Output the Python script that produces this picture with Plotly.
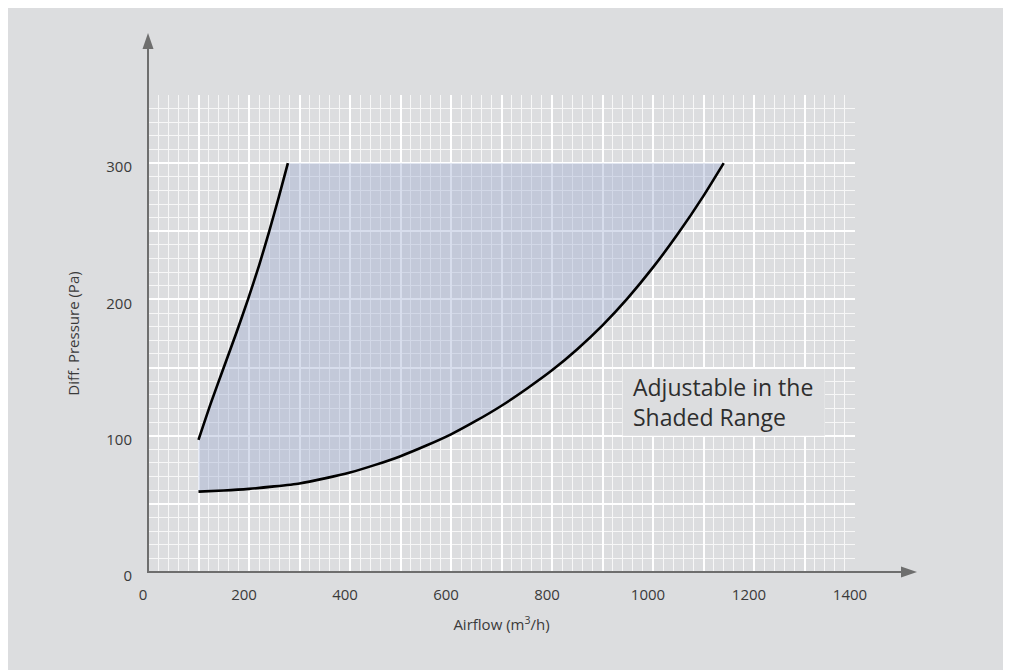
import plotly.graph_objects as go

# ---------------- data ----------------
left_x = [100, 125.5, 150, 174.5, 198, 220, 240, 259, 277]
left_y = [97, 125, 150, 175, 200, 225, 250, 275, 300]

bottom_x = [100, 150, 200, 250, 300, 350, 400, 450, 500, 550, 600, 650, 700, 750,
            800, 850, 900, 950, 1000, 1050, 1100, 1140]
bottom_y = [59, 59.8, 61, 62.8, 65, 68.7, 73, 78.6, 85, 92.6, 101, 111, 122, 134.5,
            148, 163.5, 181, 201, 223.5, 248.5, 276, 300]

x_tickvals = [0, 100, 200, 300, 400, 500, 600, 700, 800, 900, 1000, 1100, 1200, 1300, 1400]
x_ticktext = ["0", "", "200", "", "400", "", "600", "", "800", "", "1000", "", "1200", "", "1400"]
y_tickvals = [0, 50, 100, 150, 200, 250, 300, 350]
y_ticktext = ["0", "", "100", "", "200", "", "300", ""]

note_text = "Adjustable in the<br>Shaded Range"
x_title = "Airflow (m<sup>3</sup>/h)"
y_title = "Diff. Pressure (Pa)"

# ---------------- layout geometry ----------------
W, H = 1003, 662
L, R, T, B = 140, 847, 87, 564          # plot-area pixel box (figure coords)
BG = "#dcdddf"
AXIS = "#6e6e6e"
FONT = "Open Sans"
TXT = "#3a3a3a"


def px(xp):
    return (xp - L) / (R - L)


def py(yp):
    return (B - yp) / (B - T)


fig = go.Figure()

# shaded region (fill only)
fill_x = left_x + bottom_x[::-1]
fill_y = left_y + bottom_y[::-1]
fig.add_trace(go.Scatter(
    x=fill_x, y=fill_y, mode="lines", fill="toself",
    fillcolor="rgba(160,174,210,0.42)", line=dict(width=0),
    hoverinfo="skip", showlegend=False))

# boundary curves
for xs, ys in [(left_x, left_y), (bottom_x, bottom_y)]:
    fig.add_trace(go.Scatter(
        x=xs, y=ys, mode="lines",
        line=dict(color="#000000", width=2.6, shape="spline", smoothing=0.6),
        hoverinfo="skip", showlegend=False))

shapes = []
# note box (covers grid)
shapes.append(dict(type="rect", xref="x", yref="y", layer="above",
                   x0=940, x1=1340, y0=100, y1=149,
                   fillcolor=BG, line=dict(width=0)))
# axis lines
shapes.append(dict(type="line", xref="paper", yref="paper", layer="above",
                   x0=0, x1=0, y0=py(B + 1), y1=py(41),
                   line=dict(color=AXIS, width=2)))
shapes.append(dict(type="line", xref="paper", yref="paper", layer="above",
                   x0=px(L - 1), x1=px(894), y0=0, y1=0,
                   line=dict(color=AXIS, width=2)))
# arrow heads
shapes.append(dict(type="path", xref="paper", yref="paper", layer="above",
                   path=f"M {px(L-5.5)},{py(41)} L {px(L+5.5)},{py(41)} L {px(L)},{py(25)} Z",
                   fillcolor=AXIS, line=dict(width=0)))
shapes.append(dict(type="path", xref="paper", yref="paper", layer="above",
                   path=f"M {px(893)},{py(B-5.5)} L {px(893)},{py(B+5.5)} L {px(909)},{py(B)} Z",
                   fillcolor=AXIS, line=dict(width=0)))

fig.update_layout(
    width=W, height=H,
    margin=dict(l=L, r=W - R, t=T, b=H - B),
    paper_bgcolor=BG, plot_bgcolor=BG,
    font=dict(family=FONT, color=TXT, size=15),
    shapes=shapes,
    showlegend=False,
    annotations=[dict(
        x=957, y=124.5, xref="x", yref="y", xanchor="left", yanchor="middle",
        text=note_text, showarrow=False, align="left",
        font=dict(family=FONT, size=23, color="#2e2e2e"))],
)

fig.update_xaxes(
    range=[0, 1400], tickvals=x_tickvals, ticktext=x_ticktext,
    showgrid=True, gridcolor="#ffffff", gridwidth=2,
    minor=dict(dtick=20, showgrid=True, gridcolor="#f7f7f7", gridwidth=1.2),
    zeroline=False, showline=False, ticks="", ticklabelstandoff=12,
    ticklabelshift=-5,
    tickfont=dict(size=15, color=TXT),
    title=dict(text=x_title, standoff=16, font=dict(size=15, color=TXT)),
    fixedrange=True,
)
fig.update_yaxes(
    range=[0, 350], tickvals=y_tickvals, ticktext=y_ticktext,
    showgrid=True, gridcolor="#ffffff", gridwidth=2,
    minor=dict(dtick=10, showgrid=True, gridcolor="#f7f7f7", gridwidth=1.2),
    zeroline=False, showline=False, ticks="", ticklabelstandoff=15,
    ticklabelshift=4,
    tickfont=dict(size=15, color=TXT),
    title=dict(text=y_title, standoff=23, font=dict(size=15, color=TXT)),
    fixedrange=True,
)

fig.write_html("out.html")
